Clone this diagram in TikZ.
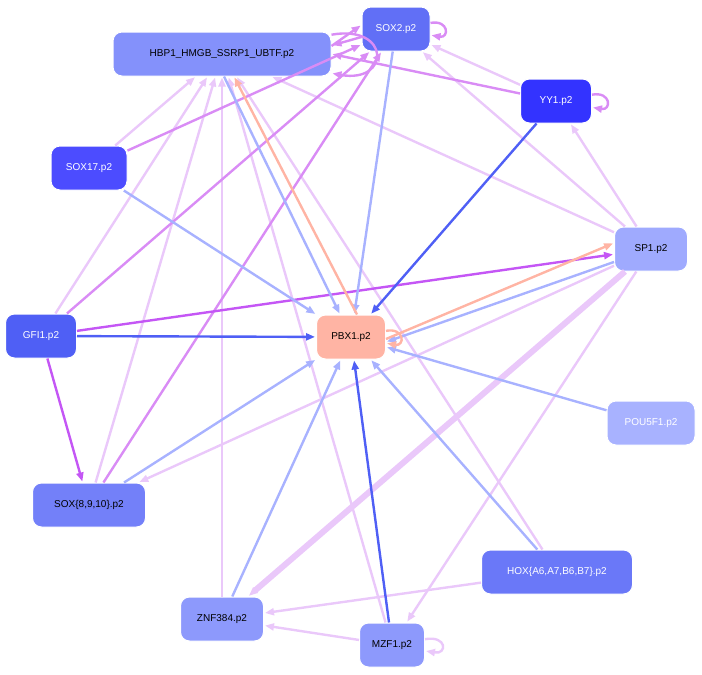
\documentclass[tikz,border=0pt]{standalone}
\usepackage{fontspec}
\setmainfont{Liberation Sans}
\usetikzlibrary{arrows.meta,positioning}
\definecolor{dkb}{HTML}{4F5FF5}
\definecolor{ltb}{HTML}{A8B2FF}
\definecolor{vio}{HTML}{C456F5}
\definecolor{mvio}{HTML}{D98CF5}
\definecolor{lvio}{HTML}{EAC8FA}
\definecolor{sal}{HTML}{FFB4A4}
\tikzset{
  gene/.style={rounded corners=9pt, draw=white, line width=1pt, minimum height=44pt,
    inner xsep=7pt, font=\fontsize{10}{12}\selectfont},
  ed/.style={-{Triangle[length=9pt,width=7pt]}, line width=2.4pt, shorten >=1pt},
}
\begin{document}
\begin{tikzpicture}[x=1pt,y=-1pt]
\useasboundingbox (0,0) rectangle (702,675);
\node[gene, fill=ltb!60!dkb, minimum width=218pt] (hbp) at (222,54) {HBP1\_HMGB\_SSRP1\_UBTF.p2};
\node[gene, fill=dkb!90!white, text=white, minimum width=68pt] (sox2) at (396,29) {SOX2.p2};
\node[gene, fill=blue!80!white, text=white, minimum width=71pt] (yy1) at (556,101) {YY1.p2};
\node[gene, fill=blue!70!white, text=white, minimum width=76pt] (sox17) at (89,168) {SOX17.p2};
\node[gene, fill=ltb!90!dkb, minimum width=73pt] (sp1) at (651,249) {SP1.p2};
\node[gene, fill=dkb, text=white, minimum width=71pt] (gfi1) at (41,336) {GFI1.p2};
\node[gene, fill=sal, minimum width=69pt] (pbx1) at (351,337) {PBX1.p2};
\node[gene, fill=ltb, text=white, minimum width=88pt] (pou) at (651,423) {POU5F1.p2};
\node[gene, fill=ltb!40!dkb, minimum width=113pt] (sox8) at (89,505) {SOX\{8,9,10\}.p2};
\node[gene, fill=ltb!30!dkb, text=white, minimum width=151pt] (hox) at (557,572) {HOX\{A6,A7,B6,B7\}.p2};
\node[gene, fill=ltb!70!dkb, minimum width=83pt] (znf) at (222,619) {ZNF384.p2};
\node[gene, fill=ltb!70!dkb, minimum width=65pt] (mzf) at (392,645) {MZF1.p2};
% light violet
\draw[ed, lvio] (sp1) -- (sox2);
\draw[ed, lvio] (sp1) -- (yy1);
\draw[ed, lvio] (sp1) -- (hbp);
\draw[ed, lvio] (sp1) -- (sox8);
\draw[ed, lvio] (sp1) -- (mzf);
\draw[ed, lvio, line width=6pt] (sp1) -- (znf);
\draw[ed, lvio] (yy1) -- (sox2);
\draw[ed, lvio] (sox17) -- (hbp);
\draw[ed, lvio] (gfi1) -- (hbp);
\draw[ed, lvio] (sox8) -- (hbp);
\draw[ed, lvio] (znf) -- (hbp);
\draw[ed, lvio] (mzf) -- (hbp);
\draw[ed, lvio] (hox) -- (hbp);
\draw[ed, lvio] (hox) -- (znf);
\draw[ed, lvio] (mzf) -- (znf);
\draw[ed, lvio] (mzf) to[out=10, in=-10, looseness=5] (mzf);
% violet
\draw[ed, mvio] (yy1) -- (hbp.east);
\draw[ed, mvio] (sox17) -- (sox2);
\draw[ed, mvio] (gfi1) -- (sox2);
\draw[ed, mvio] (sox8) -- (sox2);
\draw[ed, mvio] ([yshift=-8pt]sox2.west) -- ([yshift=-14pt]hbp.north east);
\draw[ed, mvio] ([yshift=8pt]hbp.east) -- ([yshift=4pt]sox2.west);
\draw[ed, mvio] (hbp) to[out=10, in=-10, looseness=4] (hbp);
\draw[ed, mvio] (sox2) to[out=10, in=-10, looseness=4] (sox2);
\draw[ed, mvio] (yy1) to[out=10, in=-10, looseness=4] (yy1);
\draw[ed, vio] (gfi1) -- (sox8);
\draw[ed, vio] (gfi1) -- (sp1);
% blue
\draw[ed, ltb] (sox2) -- (pbx1);
\draw[ed, ltb] (sox17) -- (pbx1);
\draw[ed, ltb] (sox8) -- (pbx1);
\draw[ed, ltb] (znf) -- (pbx1);
\draw[ed, ltb] (hox) -- (pbx1);
\draw[ed, ltb] (pou) -- (pbx1);
\draw[ed, ltb] ([xshift=2pt]hbp.south) -- (pbx1);
\draw[ed, ltb] (sp1) -- ([yshift=-5pt]pbx1.east);
\draw[ed, dkb] (gfi1) -- (pbx1);
\draw[ed, dkb] (yy1) -- (pbx1);
\draw[ed, dkb] (mzf) -- (pbx1);
% salmon
\draw[ed, sal] ([xshift=6pt]pbx1.north) -- ([xshift=12pt]hbp.south);
\draw[ed, sal] ([yshift=-2pt]pbx1.east) -- ([yshift=6pt]sp1.west);
\draw[ed, sal] (pbx1) to[out=10, in=-10, looseness=4] (pbx1);
\end{tikzpicture}
\end{document}
